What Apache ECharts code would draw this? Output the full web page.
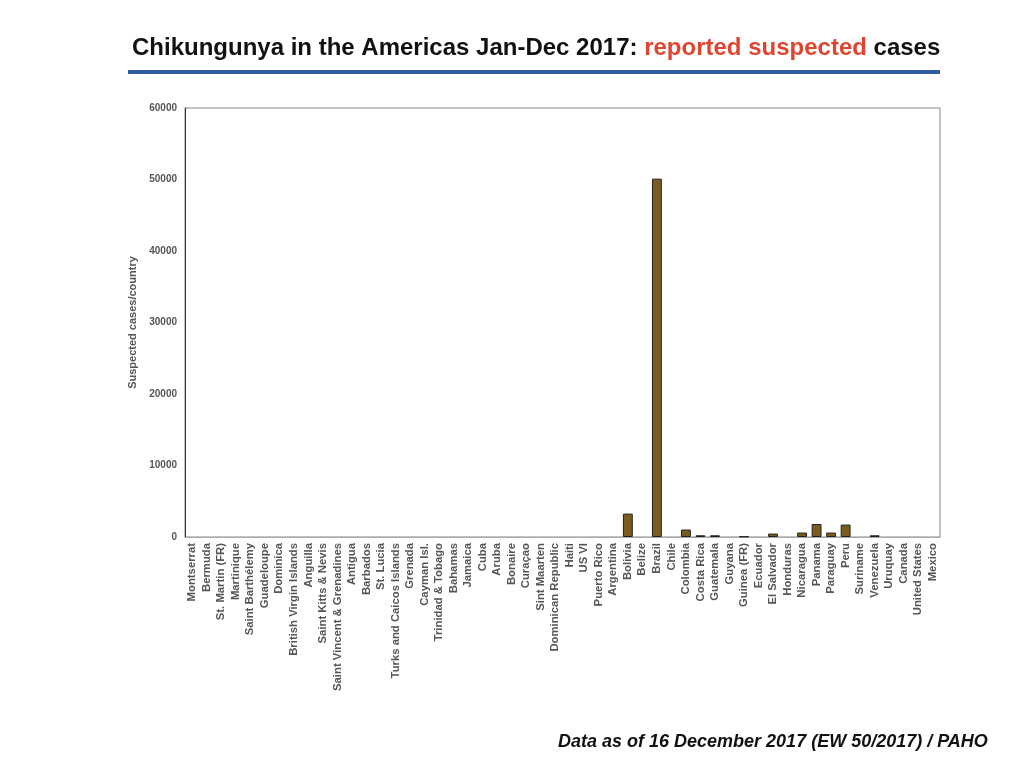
<!DOCTYPE html>
<html>
<head>
<meta charset="utf-8">
<script src="https://cdn.jsdelivr.net/npm/echarts@6/dist/echarts.min.js"></script>
<style>
  html, body { margin: 0; padding: 0; background: #fff; }
  #main { width: 1024px; height: 768px; }
</style>
</head>
<body>
<div id="main"></div>
<script>
// countries, in chart order
var countries = [
    'Montserrat', 'Bermuda', 'St. Martin (FR)', 'Martinique', 'Saint Barthélemy', 'Guadeloupe',
    'Dominica', 'British Virgin Islands', 'Anguilla', 'Saint Kitts & Nevis', 'Saint Vincent & Grenadines',
    'Antigua', 'Barbados', 'St. Lucia', 'Turks and Caicos Islands', 'Grenada', 'Cayman Isl.',
    'Trinidad & Tobago', 'Bahamas', 'Jamaica', 'Cuba', 'Aruba', 'Bonaire', 'Curaçao', 'Sint Maarten',
    'Dominican Republic', 'Haiti', 'US VI', 'Puerto Rico', 'Argentina', 'Bolivia', 'Belize', 'Brazil',
    'Chile', 'Colombia', 'Costa Rica', 'Guatemala', 'Guyana', 'Guinea (FR)', 'Ecuador', 'El Salvador',
    'Honduras', 'Nicaragua', 'Panama', 'Paraguay', 'Peru', 'Suriname', 'Venezuela', 'Uruquay',
    'Canada', 'United States', 'Mexico'
];

// suspected cases
var cases = [
    0, 0, 0, 0, 0, 0,
    0, 0, 0, 0, 0,
    0, 0, 0, 0, 0, 0,
    0, 0, 0, 0, 0, 0, 0, 0,
    0, 0, 0, 0, 0, 3270, 0, 50120,
    0, 1040, 240, 240, 0, 100, 0, 480,
    0, 620, 1820, 620, 1740, 0, 240, 0,
    0, 0, 0
];

var yTicks = { min: 0, max: 60000, interval: 10000 };

// zero bars get no outline, like the original
var barData = cases.map(function (v) {
    return v === 0 ? { value: 0, itemStyle: { borderWidth: 0 } } : v;
});

var chart = echarts.init(document.getElementById('main'));

chart.setOption({
    animation: false,
    backgroundColor: '#ffffff',
    title: {
        text: '{b|Chikungunya in the Americas Jan-Dec 2017: }{r|reported suspected}{b| cases}',
        left: 127,
        top: 31,
        textStyle: {
            rich: {
                b: { fontFamily: 'Liberation Sans', fontWeight: 'bold', fontSize: 24, color: '#111' },
                r: { fontFamily: 'Liberation Sans', fontWeight: 'bold', fontSize: 24, color: '#e0452f' }
            }
        }
    },
    graphic: [
        {
            type: 'rect',
            shape: { x: 128, y: 70, width: 812, height: 4 },
            style: { fill: '#2f5c9b' }
        },
        {
            type: 'text',
            left: 558,
            top: 733,
            style: {
                text: 'Data as of 16 December 2017 (EW 50/2017) / PAHO',
                font: 'italic bold 18px "Liberation Sans"',
                fill: '#111'
            }
        }
    ],
    grid: {
        left: 185, right: 84, top: 108, bottom: 231,
        show: true,
        borderColor: '#888',
        borderWidth: 1
    },
    xAxis: {
        type: 'category',
        data: countries,
        axisLine: { lineStyle: { color: '#aaa' } },
        axisTick: { show: false },
        axisLabel: {
            rotate: 90,
            interval: 0,
            margin: 6,
            color: '#555',
            fontWeight: 'bold',
            fontSize: 11.3,
            fontFamily: 'Liberation Sans'
        }
    },
    yAxis: {
        type: 'value',
        min: yTicks.min,
        max: yTicks.max,
        interval: yTicks.interval,
        name: 'Suspected cases/country',
        nameLocation: 'middle',
        nameGap: 42,
        nameTextStyle: { color: '#555', fontWeight: 'bold', fontSize: 11, fontFamily: 'Liberation Sans' },
        axisLine: { show: true, lineStyle: { color: '#333' } },
        axisTick: { show: false },
        splitLine: { show: false },
        axisLabel: {
            color: '#555',
            fontWeight: 'bold',
            fontSize: 10,
            margin: 8,
            fontFamily: 'Liberation Sans',
            formatter: function (v) { return String(v); }
        }
    },
    series: [{
        name: 'Suspected cases',
        type: 'bar',
        data: barData,
        barCategoryGap: '32%',
        itemStyle: {
            color: '#7a5c1f',
            borderColor: '#222',
            borderWidth: 1
        }
    }]
});
</script>
</body>
</html>
